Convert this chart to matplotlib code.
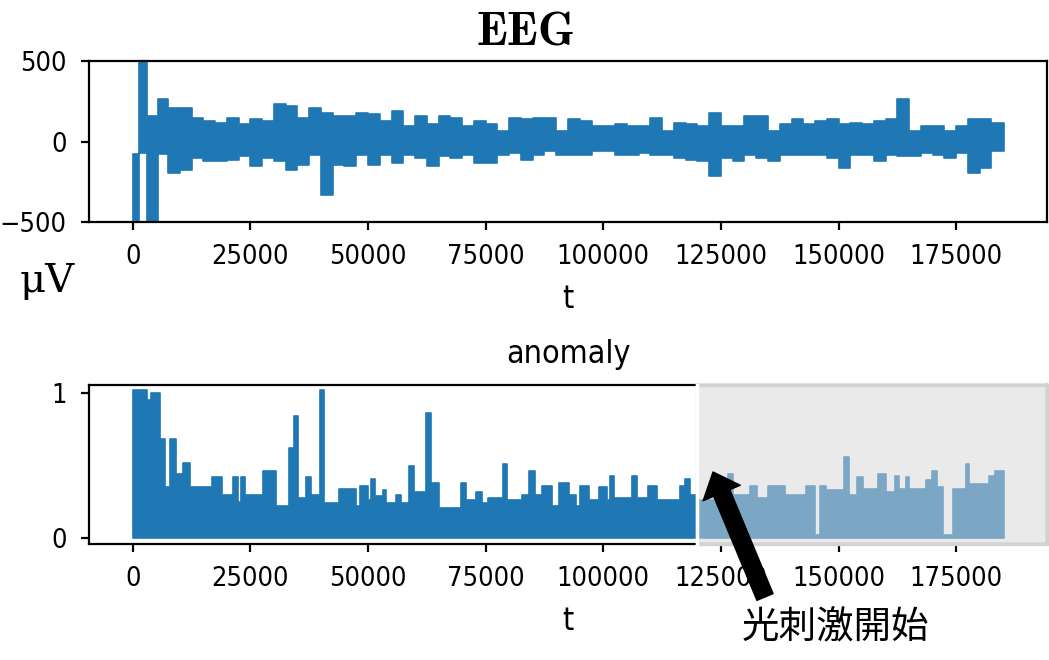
import numpy as np
import matplotlib
matplotlib.use("Agg")
import matplotlib.pyplot as plt
import matplotlib.transforms as mtransforms
from matplotlib.patches import Rectangle

# EEG envelope (bin edges, t in thousands of samples)
eeg_t = [0, 1.3, 3.0, 5.4] + list(np.arange(7.5, 183.0, 2.5)) + [185.2]
eeg_hi = [-80, 500, 158, 262,
          210, 210, 148, 127, 117, 148, 106, 137, 127, 231, 221, 148, 210, 179, 158,
          158, 179, 169, 127, 190, 96, 158, 106, 158, 148, 96, 127, 106, 65, 148, 137, 148, 148, 65, 137,
          127, 96, 96, 106, 96, 96, 148, 65, 117, 106, 96, 179, 96, 96, 158, 158, 65, 106, 137,
          106, 127, 137, 106, 117, 106, 127, 137, 262, 65, 96, 96, 65, 96, 137, 137, 117, 117]
eeg_lo = [-500, -70, -500, -80,
          -196, -175, -100, -123, -119, -112, -92, -154, -102, -123, -175, -144, -81, -331, -144,
          -154, -81, -144, -81, -133, -81, -102, -154, -92, -102, -81, -133, -133, -81, -71, -112, -81, -60, -81, -81,
          -81, -60, -60, -81, -81, -71, -81, -81, -102, -112, -123, -217, -102, -123, -81, -102, -123, -81, -81,
          -81, -81, -102, -165, -81, -81, -123, -81, -92, -92, -71, -81, -102, -71, -196, -165, -60, -60]

# anomaly score, upper level of each step (t in thousands)
anom_t = [0, 3.0, 3.8, 5.8, 6.9, 7.9, 9.2, 10.7, 12.2, 16.8, 18.9, 21.3, 22.3, 23.0, 23.8,
          27.7, 30.5, 33.3, 34.3, 35.2, 36.9, 37.9, 39.7, 40.7, 43.9,
          47.5, 48.2, 50.0, 50.7, 51.4, 53.1, 53.8, 56.0, 57.0, 58.8, 59.8, 62.3, 63.3, 65.1,
          69.7, 70.8, 72.9, 74.3, 75.4, 78.6, 79.6, 82.8, 84.2, 85.4, 87.0, 89.2, 90.6, 92.8,
          94.1, 95.1, 97.0, 99.0, 100.8, 101.5, 102.2, 106.1, 107.1, 109.6, 111.4, 116.3, 117.4, 118.5,
          120.0, 126.5, 127.6, 131.1, 132.6, 135.0, 138.6,
          143.1, 144.9, 146.1, 147.4, 151.2, 152.3, 154.0, 155.1, 158.3, 160.1, 161.9, 162.9, 164.3,
          165.0, 168.5, 169.9, 171.0, 172.2, 174.3, 177.0, 177.8, 181.9, 183.3, 185.2]
anom_v = [1.02, 0.95, 1.0, 0.68, 0.35, 0.68, 0.44, 0.52, 0.35, 0.42, 0.30, 0.42, 0.25, 0.42, 0.30,
          0.46, 0.22, 0.62, 0.84, 0.28, 0.42, 0.30, 1.02, 0.24, 0.34,
          0.22, 0.36, 0.26, 0.41, 0.29, 0.33, 0.24, 0.30, 0.24, 0.50, 0.32, 0.86, 0.38, 0.21,
          0.38, 0.26, 0.32, 0.24, 0.28, 0.51, 0.26, 0.30, 0.46, 0.30, 0.36, 0.22, 0.38, 0.30,
          0.22, 0.36, 0.26, 0.35, 0.26, 0.43, 0.28, 0.43, 0.28, 0.36, 0.26, 0.36, 0.41, 0.30,
          0.26, 0.44, 0.30, 0.36, 0.28, 0.36, 0.30,
          0.36, 0.02, 0.36, 0.33, 0.56, 0.30, 0.42, 0.34, 0.44, 0.32, 0.43, 0.34, 0.42,
          0.34, 0.40, 0.46, 0.35, 0.02, 0.34, 0.51, 0.37, 0.43, 0.46, 0.46]
stim_start = 120000

xticks = [0, 25000, 50000, 75000, 100000, 125000, 150000, 175000]

plt.rcParams['mathtext.fontset'] = 'cm'
plt.rcParams['font.family'] = ['DejaVu Sans', 'Noto Sans CJK JP']
plt.rcParams['font.stretch'] = 'condensed'
plt.rcParams['axes.linewidth'] = 1.6

W, H = 1049, 660
fig = plt.figure(figsize=(W / 100, H / 100), dpi=100)


def px_axes(left, top, right, bottom):
    return fig.add_axes([left / W, 1 - bottom / H, (right - left) / W, (bottom - top) / H])


ax1 = px_axes(89, 61, 1047, 222)
ax2 = px_axes(89, 385, 1047, 544)
blue = '#1f77b4'
xmin, xmax = -9300, 194300

t1 = np.array(eeg_t) * 1000
ax1.fill_between(t1, eeg_lo, eeg_hi, step='post', color=blue, lw=1.2)
ax1.set_ylim(-500, 500)
ax1.set_yticks([-500, 0, 500])

t2 = np.array(anom_t) * 1000
ax2.fill_between(t2, 0, anom_v, step='post', color=blue, lw=1.2)
ax2.set_ylim(-0.04, 1.055)
ax2.set_yticks([0, 1])

for ax in (ax1, ax2):
    ax.set_xlim(xmin, xmax)
    ax.set_xticks(xticks)
    ax.tick_params(length=6, width=1.6, labelsize=19.5, pad=10)
    ax.set_xlabel('t', fontsize=23, labelpad=10)

# grey overlay after the stimulus starts
trans = mtransforms.blended_transform_factory(ax2.transData, ax2.transAxes)
ax2.add_patch(Rectangle((stim_start, 0), xmax - stim_start, 1, transform=trans,
                        facecolor=(0.843, 0.843, 0.843, 0.5), edgecolor='#d2d2d2',
                        lw=2.4, clip_on=False, zorder=5))
ax2.plot([stim_start, stim_start], [0, 1], transform=trans, color='white',
         lw=2.5, clip_on=False, zorder=6)

fig.text(525 / W, 1 - 32 / H, r'$\mathbf{EEG}$', fontsize=34, ha='center', va='center')
fig.text(47 / W, 1 - 282 / H, 'μV', fontsize=29, ha='center', va='center',
         family=['DejaVu Serif'], stretch='normal')
fig.text(568 / W, 1 - 355 / H, 'anomaly', fontsize=23, ha='center', va='center')
fig.text(836 / W, 1 - 628 / H, '光刺激開始', fontsize=27, ha='center', va='center',
         family=['Noto Sans CJK JP', 'DejaVu Sans'])

# arrow pointing at the stimulus onset
ax2.annotate('', xy=(713, H - 472), xycoords='figure pixels',
             xytext=(765, H - 597), textcoords='figure pixels',
             arrowprops=dict(arrowstyle='simple,head_length=1.3,head_width=2.3,tail_width=1.0',
                             mutation_scale=12.6, color='black', shrinkA=0, shrinkB=0),
             annotation_clip=False, zorder=10)

fig.savefig('out.png', dpi=100)
